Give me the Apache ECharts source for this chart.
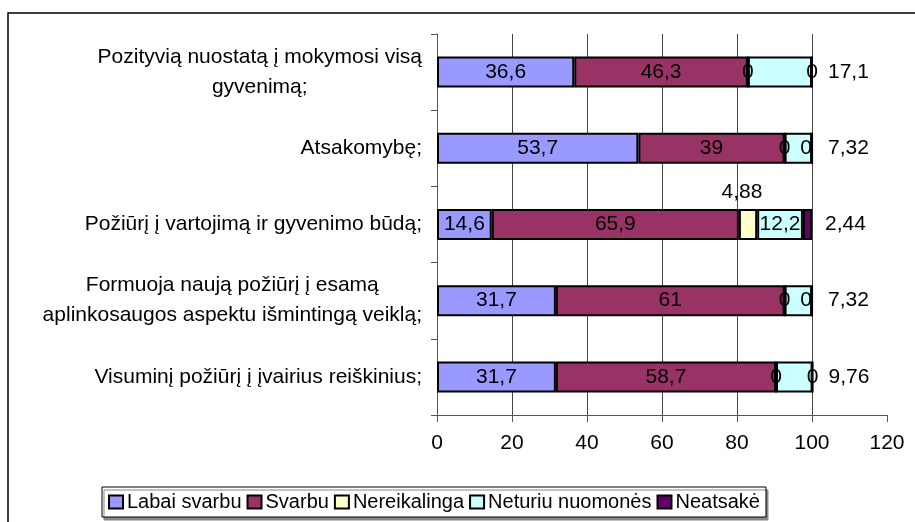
<!DOCTYPE html>
<html>
<head>
<meta charset="utf-8">
<script src="https://cdn.jsdelivr.net/npm/echarts@6/dist/echarts.min.js"></script>
<style>
html, body { margin: 0; padding: 0; background: #fff; }
#chart { width: 915px; height: 522px; }
</style>
</head>
<body>
<div id="chart"></div>
<script>
// kategorijos (iš viršaus į apačią)
var categories = [
    'Pozityvią nuostatą į mokymosi visą\ngyvenimą;',
    'Atsakomybę;',
    'Požiūrį į vartojimą ir gyvenimo būdą;',
    'Formuoja naują požiūrį į esamą\naplinkosaugos aspektu išmintingą veiklą;',
    'Visuminį požiūrį į įvairius reiškinius;'
];
var seriesNames = ['Labai svarbu', 'Svarbu', 'Nereikalinga', 'Neturiu nuomonės', 'Neatsakė'];
var labaiSvarbu = [36.6, 53.7, 14.6, 31.7, 31.7];
var svarbu = [46.3, 39, 65.9, 61, 58.7];
var nereikalinga = [0, 0, 4.88, 0, 0];
var neturiuNuomones = [17.1, 7.32, 12.2, 7.32, 9.76];
var neatsake = [0, 0, 2.44, 0, 0];
var xTicks = [0, 20, 40, 60, 80, 100, 120];

var colors = ['#9999FF', '#993366', '#FFFFCC', '#CCFFFF', '#660066'];
var fontFamily = '"Liberation Sans", Arial, sans-serif';

function fmt(p) {
    return String(p.value).replace('.', ',');
}

function baseLabel(pos) {
    return {
        show: true,
        position: pos,
        color: '#000',
        fontSize: 21,
        fontFamily: fontFamily,
        formatter: fmt
    };
}

// etikečių vietos kaip originale
function nereikItems() {
    return nereikalinga.map(function (v, i) {
        if (i === 2) {
            return { value: v, label: { position: 'top', distance: 6, offset: [-6, 0] } };
        }
        return v;
    });
}
function neturiuItems() {
    return neturiuNuomones.map(function (v, i) {
        if (i === 2) return v;
        return { value: v, label: { position: 'right', distance: 16 } };
    });
}
function neatsakeItems() {
    return neatsake.map(function (v, i) {
        if (i === 2) return { value: v, label: { position: 'right', distance: 13 } };
        if (i === 1 || i === 3) return { value: v, label: { offset: [-6, 0] } };
        return v;
    });
}

var dataSets = [labaiSvarbu, svarbu, nereikItems(), neturiuItems(), neatsakeItems()];

var series = seriesNames.map(function (name, k) {
    return {
        name: name,
        type: 'bar',
        stack: 'viso',
        barWidth: 31,
        data: dataSets[k],
        itemStyle: { color: colors[k], borderColor: '#000', borderWidth: 2 },
        label: baseLabel('inside'),
        emphasis: { disabled: true }
    };
});

var myChart = echarts.init(document.getElementById('chart'), null, { renderer: 'canvas' });
myChart.setOption({
    animation: false,
    backgroundColor: '#fff',
    textStyle: { fontFamily: fontFamily, color: '#000' },
    graphic: [{
        type: 'rect',
        shape: { x: 8, y: 13, width: 930, height: 540 },
        style: { fill: 'none', stroke: '#000', lineWidth: 1.5 },
        silent: true
    }],
    grid: { left: 437, top: 34, right: 28, bottom: 107 },
    legend: {
        data: seriesNames,
        left: 102,
        top: 487,
        orient: 'horizontal',
        itemWidth: 14,
        itemHeight: 13,
        itemGap: 5,
        padding: [5, 6, 5, 6],
        borderColor: '#000',
        borderWidth: 1,
        backgroundColor: '#fff',
        shadowColor: '#888',
        shadowOffsetX: 2,
        shadowOffsetY: 3,
        shadowBlur: 0,
        icon: 'rect',
        itemStyle: { borderColor: '#000', borderWidth: 2 },
        textStyle: { fontSize: 20, color: '#000', fontFamily: fontFamily, padding: [0, 0, 0, -1] }
    },
    xAxis: {
        type: 'value',
        min: xTicks[0],
        max: xTicks[xTicks.length - 1],
        interval: 20,
        axisLine: { show: true, lineStyle: { color: '#555', width: 1 } },
        axisTick: { show: true, length: 7, lineStyle: { color: '#555' } },
        axisLabel: { fontSize: 21, color: '#000', margin: 18, fontFamily: fontFamily },
        splitLine: { show: true, showMaxLine: false, lineStyle: { color: '#444', width: 1 } }
    },
    yAxis: {
        type: 'category',
        inverse: true,
        data: categories,
        axisLine: { show: true, lineStyle: { color: '#555', width: 1 } },
        axisTick: { show: true, length: 6, lineStyle: { color: '#555' } },
        axisLabel: {
            margin: 15,
            color: '#000',
            formatter: function (val) {
                return val.split('\n').map(function (l) { return '{c|' + l + '}'; }).join('\n');
            },
            rich: {
                c: { align: 'center', fontSize: 21, lineHeight: 30, fontFamily: fontFamily, color: '#000' }
            }
        },
        splitLine: { show: false }
    },
    series: series
});
</script>
</body>
</html>
